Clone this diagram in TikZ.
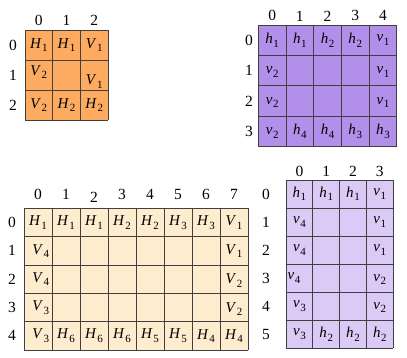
\documentclass[tikz,border=0pt]{standalone}
\usepackage{fontspec}
\setmainfont{Liberation Serif}
\newcommand\cH[2]{\textit{#1}\kern0.6pt\raisebox{-3.4pt}{\fontsize{11}{11}\selectfont #2}}
\definecolor{gorange}{RGB}{253,171,96}
\definecolor{gpurple}{RGB}{177,143,234}
\definecolor{gbeige}{RGB}{253,236,206}
\definecolor{glilac}{RGB}{219,202,246}
\tikzset{
  gline/.style={draw=black!75,line width=0.7pt},
  cell/.style={inner sep=0pt,font=\fontsize{15}{15}\selectfont},
  lab/.style={inner sep=0pt,font=\fontsize{15.5}{15.5}\selectfont},
}
\begin{document}
\begin{tikzpicture}
\useasboundingbox (0pt,0pt) rectangle (407pt,-357pt);

% ---------- Grid 1: orange 3x3
\begin{scope}[shift={(25pt,-30pt)},x=27.7pt,y=-30pt]
\fill[gorange] (0,0) rectangle (3,3);
\foreach \i in {0,...,3} {\draw[gline] (\i,0) -- (\i,3); \draw[gline] (0,\i) -- (3,\i);}
\foreach \c in {0,1,2} {\node[lab] (a-col\c) at (\c+0.5,-0.33) {\c};}
\foreach \r in {0,1,2} {\node[lab] (a-row\r) at (-0.43,\r+0.5) {\r};}
\node[cell] (a00) at (0.5,0.5) {\cH{H}{1}};
\node[cell] (a01) at (1.5,0.5) {\cH{H}{1}};
\node[cell] (a02) at (2.5,0.5) {\cH{V}{1}};
\node[cell] (a10) at (0.5,1.4) {\cH{V}{2}};
\node[cell] (a12) at (2.5,1.72) {\cH{V}{1}};
\node[cell] (a20) at (0.5,2.5) {\cH{V}{2}};
\node[cell] (a21) at (1.5,2.5) {\cH{H}{2}};
\node[cell] (a22) at (2.5,2.5) {\cH{H}{2}};
\end{scope}

% ---------- Grid 2: purple 5x4
\begin{scope}[shift={(258.3pt,-25pt)},x=27.7pt,y=-30.4pt]
\fill[gpurple] (0,0) rectangle (5,4);
\foreach \i in {0,...,5} {\draw[gline] (\i,0) -- (\i,4);}
\foreach \i in {0,...,4} {\draw[gline] (0,\i) -- (5,\i);}
\foreach \c in {0,...,4} {\node[lab] (b-col\c) at (\c+0.5,-0.3) {\c};}
\foreach \r in {0,...,3} {\node[lab] (b-row\r) at (-0.34,\r+0.5) {\r};}
\node[cell] (b00) at (0.5,0.5) {\cH{h}{1}};
\node[cell] (b01) at (1.5,0.5) {\cH{h}{1}};
\node[cell] (b02) at (2.5,0.5) {\cH{h}{2}};
\node[cell] (b03) at (3.5,0.5) {\cH{h}{2}};
\node[cell] (b04) at (4.5,0.5) {\cH{v}{1}};
\node[cell] (b10) at (0.5,1.55) {\cH{v}{2}};
\node[cell] (b14) at (4.5,1.55) {\cH{v}{1}};
\node[cell] (b20) at (0.5,2.55) {\cH{v}{2}};
\node[cell] (b24) at (4.5,2.55) {\cH{v}{1}};
\node[cell] (b30) at (0.5,3.55) {\cH{v}{2}};
\node[cell] (b31) at (1.5,3.5) {\cH{h}{4}};
\node[cell] (b32) at (2.5,3.5) {\cH{h}{4}};
\node[cell] (b33) at (3.5,3.5) {\cH{h}{3}};
\node[cell] (b34) at (4.5,3.5) {\cH{h}{3}};
\end{scope}

% ---------- Grid 3: beige 8x5
\begin{scope}[shift={(24pt,-208.3pt)},x=28pt,y=-28.33pt]
\fill[gbeige] (0,0) rectangle (8,5);
\foreach \i in {0,...,8} {\draw[gline] (\i,0) -- (\i,5);}
\foreach \i in {0,...,5} {\draw[gline] (0,\i) -- (8,\i);}
\foreach \c in {0,1,3,4,5,6,7} {\node[lab] (c-col\c) at (\c+0.5,-0.48) {\c};}
\node[lab] (c-col2) at (2.5,-0.38) {2};
\foreach \r in {0,...,4} {\node[lab] (c-row\r) at (-0.43,\r+0.5) {\r};}
\node[cell] (c00) at (0.5,0.5) {\cH{H}{1}};
\node[cell] (c01) at (1.5,0.5) {\cH{H}{1}};
\node[cell] (c02) at (2.5,0.5) {\cH{H}{1}};
\node[cell] (c03) at (3.5,0.5) {\cH{H}{2}};
\node[cell] (c04) at (4.5,0.5) {\cH{H}{2}};
\node[cell] (c05) at (5.5,0.5) {\cH{H}{3}};
\node[cell] (c06) at (6.5,0.5) {\cH{H}{3}};
\node[cell] (c07) at (7.5,0.5) {\cH{V}{1}};
\node[cell] (c10) at (0.6,1.5) {\cH{V}{4}};
\node[cell] (c17) at (7.5,1.5) {\cH{V}{1}};
\node[cell] (c20) at (0.6,2.5) {\cH{V}{4}};
\node[cell] (c27) at (7.5,2.55) {\cH{V}{2}};
\node[cell] (c30) at (0.6,3.5) {\cH{V}{3}};
\node[cell] (c37) at (7.5,3.55) {\cH{V}{2}};
\node[cell] (c40) at (0.6,4.5) {\cH{V}{3}};
\node[cell] (c41) at (1.5,4.5) {\cH{H}{6}};
\node[cell] (c42) at (2.5,4.5) {\cH{H}{6}};
\node[cell] (c43) at (3.5,4.5) {\cH{H}{6}};
\node[cell] (c44) at (4.5,4.5) {\cH{H}{5}};
\node[cell] (c45) at (5.5,4.5) {\cH{H}{5}};
\node[cell] (c46) at (6.5,4.5) {\cH{H}{4}};
\node[cell] (c47) at (7.5,4.5) {\cH{H}{4}};
\end{scope}

% ---------- Grid 4: lilac 4x6
\begin{scope}[shift={(286pt,-180pt)},x=26.8pt,y=-28.05pt]
\fill[glilac] (0,0) rectangle (4,6);
\foreach \i in {0,...,4} {\draw[gline] (\i,0) -- (\i,6);}
\foreach \i in {0,...,6} {\draw[gline] (0,\i) -- (4,\i);}
\foreach \c in {0,...,3} {\node[lab] (d-col\c) at (\c+0.5,-0.32) {\c};}
\foreach \r in {0,...,5} {\node[lab] (d-row\r) at (-0.75,\r+0.5) {\r};}
\node[cell] (d00) at (0.5,0.5) {\cH{h}{1}};
\node[cell] (d01) at (1.5,0.5) {\cH{h}{1}};
\node[cell] (d02) at (2.5,0.5) {\cH{h}{1}};
\node[cell] (d03) at (3.5,0.5) {\cH{v}{1}};
\node[cell] (d10) at (0.5,1.5) {\cH{v}{4}};
\node[cell] (d13) at (3.5,1.5) {\cH{v}{1}};
\node[cell] (d20) at (0.5,2.5) {\cH{v}{4}};
\node[cell] (d23) at (3.5,2.5) {\cH{v}{1}};
\node[cell] (d30) at (0.3,3.5) {\cH{v}{4}};
\node[cell] (d33) at (3.5,3.55) {\cH{v}{2}};
\node[cell] (d40) at (0.5,4.5) {\cH{v}{3}};
\node[cell] (d43) at (3.5,4.55) {\cH{v}{2}};
\node[cell] (d50) at (0.5,5.5) {\cH{v}{3}};
\node[cell] (d51) at (1.5,5.5) {\cH{h}{2}};
\node[cell] (d52) at (2.5,5.5) {\cH{h}{2}};
\node[cell] (d53) at (3.5,5.5) {\cH{h}{2}};
\end{scope}
\end{tikzpicture}
\end{document}
